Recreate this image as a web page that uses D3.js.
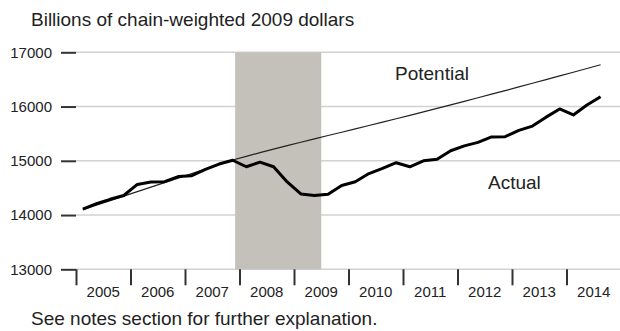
<!DOCTYPE html>
<html>
<head>
<meta charset="utf-8">
<script src="https://cdn.jsdelivr.net/npm/d3@7"></script>
<style>
  body { margin: 0; background: #fff; }
  svg { display: block; font-family: "Liberation Sans", Arial, sans-serif; }
</style>
</head>
<body>
<div id="chart"></div>
<script>
// quarterly values, 2005Q1 .. 2014Q3
const years = [2005, 2006, 2007, 2008, 2009, 2010, 2011, 2012, 2013, 2014];
const yTicks = [13000, 14000, 15000, 16000, 17000];
const actual = [
    14110, 14210, 14290, 14360,
    14565, 14610, 14615, 14710,
    14725, 14840, 14940, 15010,
    14890, 14975, 14890, 14610,
    14390, 14360, 14385, 14545,
    14615, 14765, 14860, 14965,
    14890, 15000, 15030, 15185,
    15275, 15340, 15440, 15445,
    15560, 15640, 15805, 15955,
    15845, 16030, 16180
];
const potential = [
    14100, 14183, 14266, 14349,
    14432, 14515, 14598, 14681,
    14764, 14847, 14930, 15015,
    15082, 15150, 15215, 15280,
    15342, 15404, 15466, 15527,
    15588, 15650, 15712, 15775,
    15838, 15902, 15966, 16031,
    16096, 16162, 16228, 16295,
    16362, 16430, 16497, 16565,
    16633, 16701, 16770
];
const recession = [2007.92, 2009.5];

const width = 620, height = 331;
const margin = {top: 52.3, right: -1, bottom: 61.7, left: 76};

const svg = d3.select("#chart")
    .append("svg")
    .attr("width", width)
    .attr("height", height);

// x: continuous time in years, y: billions
const x = d3.scaleLinear()
    .domain([2005, 2015])
    .range([margin.left, width - margin.right]);

const y = d3.scaleLinear()
    .domain([13000, 17000])
    .range([height - margin.bottom, margin.top]);

const qx = i => x(2005 + (i + 0.5) / 4);

// gridlines
svg.append("g")
    .selectAll("line")
    .data(yTicks)
    .join("line")
    .attr("x1", x(2005))
    .attr("x2", width)
    .attr("y1", d => y(d))
    .attr("y2", d => y(d))
    .attr("stroke", "#d2d2d2")
    .attr("stroke-width", 1.5);

// recession shading
svg.append("rect")
    .attr("x", x(recession[0]))
    .attr("y", y(17000))
    .attr("width", x(recession[1]) - x(recession[0]))
    .attr("height", y(13000) - y(17000))
    .attr("fill", "#c4c0ba");

// y axis: short tick marks + labels
const yAxis = svg.append("g")
    .attr("transform", `translate(${x(2005)},0)`)
    .call(d3.axisLeft(y).tickValues(yTicks).tickSize(15).tickPadding(9).tickFormat(d3.format("d")));
yAxis.select(".domain").remove();
yAxis.selectAll("line").attr("stroke", "#333").attr("stroke-width", 2);
yAxis.selectAll("text")
    .style("font-size", "15px")
    .style("font-family", "'Liberation Sans', Arial, sans-serif")
    .attr("fill", "#222");

// x axis: year boundary ticks, labels centred between them
const xAxis = svg.append("g")
    .attr("transform", `translate(0,${y(13000)})`)
    .call(d3.axisBottom(x).tickValues(years).tickSize(16).tickFormat(""));
xAxis.select(".domain").remove();
xAxis.selectAll("line").attr("stroke", "#333").attr("stroke-width", 2);

svg.append("g")
    .selectAll("text")
    .data(years)
    .join("text")
    .attr("x", d => x(d + 0.5))
    .attr("y", 297)
    .attr("text-anchor", "middle")
    .style("font-size", "15px")
    .attr("fill", "#222")
    .text(d => d);

// lines
const line = d3.line()
    .x((d, i) => qx(i))
    .y(d => y(d));

svg.append("path")
    .datum(potential)
    .attr("d", line)
    .attr("fill", "none")
    .attr("stroke", "#222")
    .attr("stroke-width", 1.2);

svg.append("path")
    .datum(actual)
    .attr("d", line)
    .attr("fill", "none")
    .attr("stroke", "#000")
    .attr("stroke-width", 3)
    .attr("stroke-linejoin", "round");

// labels
svg.append("text")
    .attr("x", 395).attr("y", 80)
    .style("font-size", "19px").attr("fill", "#222")
    .text("Potential");

svg.append("text")
    .attr("x", 488).attr("y", 189)
    .style("font-size", "19px").attr("fill", "#222")
    .text("Actual");

svg.append("text")
    .attr("x", 31).attr("y", 26)
    .style("font-size", "19px").attr("fill", "#222")
    .text("Billions of chain-weighted 2009 dollars");

svg.append("text")
    .attr("x", 31).attr("y", 325)
    .style("font-size", "19px").attr("fill", "#222")
    .text("See notes section for further explanation.");
</script>
</body>
</html>
